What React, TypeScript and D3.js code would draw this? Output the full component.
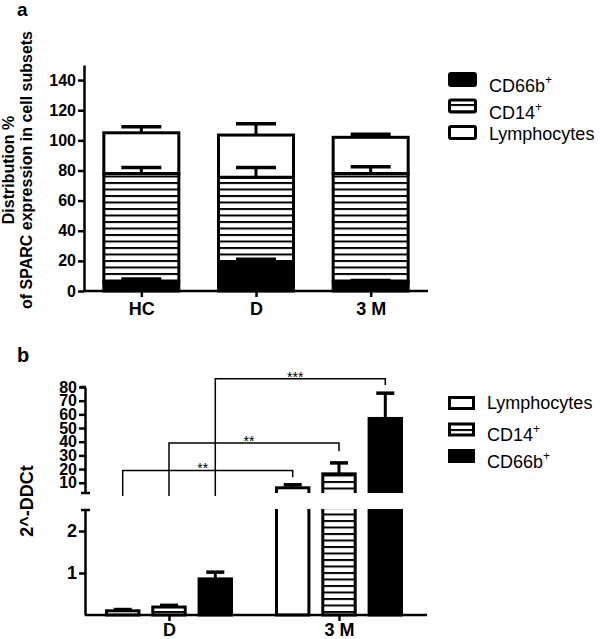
import {
  axisBottom,
  axisLeft,
  scaleBand,
  scaleLinear,
  scalePoint,
  select,
} from "d3";
import { useEffect, useRef } from "react";

// panel a: stacked distribution
const groupsA = ["HC", "D", "3 M"];
const cd66bA = [6, 19, 6];
const cd66bErrA = [2, 2, 1];
const cd14A = [72, 56.5, 72];
const cd14ErrA = [4, 6.5, 4.5];
const lymphA = [27, 28, 24];
const lymphErrA = [4, 7.5, 2];
const ticksA = [0, 20, 40, 60, 80, 100, 120, 140];

// panel b: 2^-DDCt with broken axis
const groupsB = ["D", "3 M"];
const seriesB = ["Lymphocytes", "CD14", "CD66b"];
const lymphB = [0.1, 6.3];
const lymphErrB = [0.03, 2.2];
const cd14B = [0.19, 16.5];
const cd14ErrB = [0.04, 8];
const cd66bB = [0.86, 57];
const cd66bErrB = [0.16, 18.5];
const upperTicksB = [10, 20, 30, 40, 50, 60, 70, 80];
const lowerTicksB = [1, 2];
const sigLevels = [19, 39, 86];
const sigEnds = [14, 33, 81.5];
const sigLabels = ["**", "**", "***"];

const FONT = "'Liberation Sans', Arial, Helvetica, sans-serif";

function App() {
  const svgRef = useRef(null);

  useEffect(() => {
    const svg = select(svgRef.current);
    svg.selectAll("*").remove();

    const defs = svg.append("defs");
    const pat = defs
      .append("pattern")
      .attr("id", "hatch")
      .attr("patternUnits", "userSpaceOnUse")
      .attr("width", 8)
      .attr("height", 6.5);
    pat.append("rect").attr("width", 8).attr("height", 6.5).attr("fill", "#fff");
    pat
      .append("rect")
      .attr("y", 0)
      .attr("width", 8)
      .attr("height", 2)
      .attr("fill", "#000");

    defs
      .append("clipPath")
      .attr("id", "clipUpper")
      .append("rect")
      .attr("x", 0)
      .attr("y", 300)
      .attr("width", 600)
      .attr("height", 193);
    defs
      .append("clipPath")
      .attr("id", "clipLower")
      .append("rect")
      .attr("x", 0)
      .attr("y", 509)
      .attr("width", 600)
      .attr("height", 120);

    const styleAxis = (g: any, size: number) => {
      g.selectAll("path").attr("stroke", "#000").attr("stroke-width", 2.5);
      g.selectAll("line").attr("stroke", "#000").attr("stroke-width", 2.5);
      g.selectAll("text")
        .attr("font-family", FONT)
        .attr("font-weight", "bold")
        .attr("font-size", size)
        .attr("fill", "#000");
    };

    // ---------- panel a ----------
    const xA = scalePoint().domain(groupsA).range([84, 428]).padding(0.5);
    const yA = scaleLinear().domain([0, 150]).range([291, 65]);
    const barWA = 75;

    svg
      .append("text")
      .attr("x", 17)
      .attr("y", 16)
      .attr("font-family", FONT)
      .attr("font-weight", "bold")
      .attr("font-size", 19)
      .text("a");

    const stacks = groupsA.map((g, i) => {
      const s0 = cd66bA[i];
      const s1 = s0 + cd14A[i];
      const s2 = s1 + lymphA[i];
      return [
        { g, lo: 0, hi: s0, err: cd66bErrA[i], fill: "#000" },
        { g, lo: s0, hi: s1, err: cd14ErrA[i], fill: "url(#hatch)" },
        { g, lo: s1, hi: s2, err: lymphErrA[i], fill: "#fff" },
      ];
    });

    stacks.flat().forEach((d) => {
      const cx = xA(d.g) as number;
      svg
        .append("rect")
        .attr("x", cx - barWA / 2)
        .attr("y", yA(d.hi))
        .attr("width", barWA)
        .attr("height", yA(d.lo) - yA(d.hi))
        .attr("fill", d.fill)
        .attr("stroke", "#000")
        .attr("stroke-width", 3);
    });
    stacks.flat().forEach((d) => {
      const cx = xA(d.g) as number;
      svg
        .append("line")
        .attr("x1", cx)
        .attr("x2", cx)
        .attr("y1", yA(d.hi))
        .attr("y2", yA(d.hi + d.err))
        .attr("stroke", "#000")
        .attr("stroke-width", 3);
      svg
        .append("line")
        .attr("x1", cx - 20)
        .attr("x2", cx + 20)
        .attr("y1", yA(d.hi + d.err))
        .attr("y2", yA(d.hi + d.err))
        .attr("stroke", "#000")
        .attr("stroke-width", 3.5);
    });

    const gyA = svg
      .append("g")
      .attr("transform", "translate(84,0)")
      .call(
        axisLeft(yA).tickValues(ticksA).tickSize(6).tickSizeOuter(0).tickPadding(2) as any
      );
    styleAxis(gyA, 16);

    const gxA = svg
      .append("g")
      .attr("transform", "translate(0,291)")
      .call(axisBottom(xA).tickSize(6).tickSizeOuter(0).tickPadding(5) as any);
    gxA.select("path").attr("d", "M84,0H428");
    styleAxis(gxA, 18);

    const titleA = svg
      .append("text")
      .attr("transform", "translate(14,170) rotate(-90)")
      .attr("text-anchor", "middle")
      .attr("font-family", FONT)
      .attr("font-weight", "bold")
      .attr("font-size", 16);
    titleA.append("tspan").attr("x", 0).attr("y", 0).text("Distribution %");
    titleA
      .append("tspan")
      .attr("x", 0)
      .attr("y", 17.5)
      .text("of SPARC expression in cell subsets");

    // legend a
    const legendA = [
      { name: "CD66b", sup: true, fill: "#000" },
      { name: "CD14", sup: true, fill: "url(#hatch)" },
      { name: "Lymphocytes", sup: false, fill: "#fff" },
    ];
    legendA.forEach((d, i) => {
      const y = 72 + i * 26.5;
      svg
        .append("rect")
        .attr("x", 449.5)
        .attr("y", y + 1.5)
        .attr("width", 26)
        .attr("height", 12)
        .attr("rx", 1.5)
        .attr("fill", d.fill)
        .attr("stroke", "#000")
        .attr("stroke-width", 3);
      const t = svg
        .append("text")
        .attr("x", 489)
        .attr("y", y + (d.sup ? 20 : 14.5))
        .attr("font-family", FONT)
        .attr("font-size", 18)
        .text(d.name);
      if (d.sup) t.append("tspan").attr("dy", -8).attr("font-size", 12).text("+");
    });

    // ---------- panel b ----------
    const x0 = scalePoint().domain(groupsB).range([84, 424]).padding(0.5);
    const x1 = scaleBand().domain(seriesB).range([-62.5, 62.5]).paddingInner(0.3);
    const upper = scaleLinear().domain([2.5, 80]).range([493, 387]);
    const lower = scaleLinear().domain([0, 2.5]).range([615, 510]);
    const barWB = x1.bandwidth();

    svg
      .append("text")
      .attr("x", 17)
      .attr("y", 362)
      .attr("font-family", FONT)
      .attr("font-weight", "bold")
      .attr("font-size", 20)
      .text("b");

    const valsB = [lymphB, cd14B, cd66bB];
    const errsB = [lymphErrB, cd14ErrB, cd66bErrB];
    const fillsB = ["#fff", "url(#hatch)", "#000"];

    const barsB = groupsB.flatMap((g, gi) =>
      seriesB.map((s, si) => ({
        cx: (x0(g) as number) + (x1(s) as number) + barWB / 2,
        v: valsB[si][gi],
        e: errsB[si][gi],
        fill: fillsB[si],
      }))
    );

    const lowerG = svg.append("g").attr("clip-path", "url(#clipLower)");
    const upperG = svg.append("g").attr("clip-path", "url(#clipUpper)");

    barsB.forEach((d) => {
      const top = lower(d.v);
      lowerG
        .append("rect")
        .attr("x", d.cx - barWB / 2)
        .attr("y", top)
        .attr("width", barWB)
        .attr("height", lower(0) - top)
        .attr("fill", d.fill)
        .attr("stroke", "#000")
        .attr("stroke-width", 3);
      if (d.v > 2.5) {
        const t2 = upper(d.v);
        upperG
          .append("rect")
          .attr("x", d.cx - barWB / 2)
          .attr("y", t2)
          .attr("width", barWB)
          .attr("height", upper(0) - t2)
          .attr("fill", d.fill)
          .attr("stroke", "#000")
          .attr("stroke-width", 3);
      }
      const sc = d.v > 2.5 ? upper : lower;
      svg
        .append("line")
        .attr("x1", d.cx)
        .attr("x2", d.cx)
        .attr("y1", sc(d.v))
        .attr("y2", sc(d.v + d.e))
        .attr("stroke", "#000")
        .attr("stroke-width", 3);
      svg
        .append("line")
        .attr("x1", d.cx - 9)
        .attr("x2", d.cx + 9)
        .attr("y1", sc(d.v + d.e))
        .attr("y2", sc(d.v + d.e))
        .attr("stroke", "#000")
        .attr("stroke-width", 3.5);
    });

    const gyU = svg
      .append("g")
      .attr("transform", "translate(85,0)")
      .call(
        axisLeft(upper)
          .tickValues(upperTicksB)
          .tickFormat((v: any) => `${v}`)
          .tickSize(6)
          .tickSizeOuter(0)
          .tickPadding(2) as any
      );
    styleAxis(gyU, 16);
    const gyL = svg
      .append("g")
      .attr("transform", "translate(85,0)")
      .call(
        axisLeft(lower)
          .tickValues(lowerTicksB)
          .tickFormat((v: any) => `${v}`)
          .tickSize(6)
          .tickSizeOuter(0)
          .tickPadding(2) as any
      );
    styleAxis(gyL, 18);
    // break caps on the axis
    [upper(2.5), lower(2.5)].forEach((y) => {
      svg
        .append("line")
        .attr("x1", 81)
        .attr("x2", 90)
        .attr("y1", y)
        .attr("y2", y)
        .attr("stroke", "#000")
        .attr("stroke-width", 2.5);
    });
    svg
      .append("line")
      .attr("x1", 80)
      .attr("x2", 86)
      .attr("y1", upper(80))
      .attr("y2", upper(80))
      .attr("stroke", "#000")
      .attr("stroke-width", 2.5);

    const gxB = svg
      .append("g")
      .attr("transform", `translate(0,${lower(0)})`)
      .call(axisBottom(x0).tickSize(6).tickSizeOuter(0).tickPadding(2.5) as any);
    gxB.select("path").attr("d", "M85,0H427");
    styleAxis(gxB, 18);

    svg
      .append("text")
      .attr("transform", `translate(33,${(upper(80) + lower(0)) / 2}) rotate(-90)`)
      .attr("text-anchor", "middle")
      .attr("font-family", FONT)
      .attr("font-weight", "bold")
      .attr("font-size", 18)
      .text("2^-DDCt");

    // significance brackets
    sigLevels.forEach((lvl, si) => {
      const s = seriesB[si];
      const xl = (x0("D") as number) + (x1(s) as number) + barWB / 2;
      const xr = (x0("3 M") as number) + (x1(s) as number) + barWB / 2;
      const y = upper(lvl);
      svg
        .append("path")
        .attr("d", `M${xl},${upper(2.5) + 3}V${y}H${xr}V${upper(sigEnds[si])}`)
        .attr("fill", "none")
        .attr("stroke", "#000")
        .attr("stroke-width", 1.5);
      svg
        .append("text")
        .attr("x", (xl + xr) / 2 - 5)
        .attr("y", y + 3)
        .attr("text-anchor", "middle")
        .attr("font-family", FONT)
        .attr("font-size", 14)
        .text(sigLabels[si]);
    });

    // legend b
    const legendB = [
      { name: "Lymphocytes", sup: false, fill: "#fff" },
      { name: "CD14", sup: true, fill: "url(#hatch)" },
      { name: "CD66b", sup: true, fill: "#000" },
    ];
    legendB.forEach((d, i) => {
      const y = 396 + i * 26.5;
      svg
        .append("rect")
        .attr("x", 449.5)
        .attr("y", y + 1.5)
        .attr("width", 24)
        .attr("height", 11)
        .attr("fill", d.fill)
        .attr("stroke", "#000")
        .attr("stroke-width", 3);
      const t = svg
        .append("text")
        .attr("x", 487)
        .attr("y", y + (d.sup ? 18.5 : 12.5))
        .attr("font-family", FONT)
        .attr("font-size", 18)
        .text(d.name);
      if (d.sup) t.append("tspan").attr("dy", -8).attr("font-size", 12).text("+");
    });
  }, []);

  return (
    <svg
      ref={svgRef}
      width={600}
      height={639}
      style={{ position: "absolute", left: 0, top: 0, background: "#fff" }}
    ></svg>
  );
}

export default App;
